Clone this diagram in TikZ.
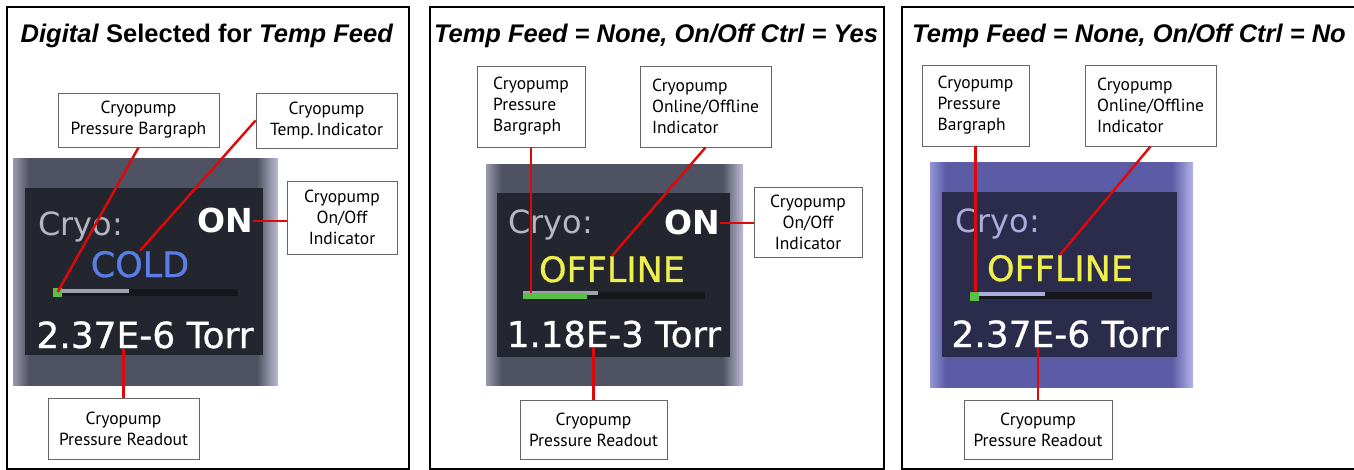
\documentclass[tikz,border=0pt]{standalone}
\usepackage{fontspec}
\newfontfamily\titlefont{Liberation Sans}
\newfontfamily\calloutfont{PT Sans}
\newfontfamily\dispfont{DejaVu Sans}
\newfontfamily\dispheavy[FakeBold=0.8]{DejaVu Sans}
\usetikzlibrary{positioning}
\definecolor{leadred}{HTML}{E00808}
\definecolor{bezelEdgeL}{HTML}{9A9AAC}
\definecolor{bezelMid}{HTML}{4E5262}
\definecolor{bezelEdgeR}{HTML}{BDBDD4}
\definecolor{violetEdgeL}{HTML}{9494D8}
\definecolor{violetMid}{HTML}{5C5CA6}
\definecolor{violetEdgeR}{HTML}{B4B4EA}
\definecolor{screengray}{HTML}{23262E}
\definecolor{screenviolet}{HTML}{2B2B4B}
\definecolor{cryogray}{HTML}{B4B8C0}
\definecolor{cryoviolet}{HTML}{ADADDC}
\definecolor{coldblue}{HTML}{5A7EE8}
\definecolor{offyellow}{HTML}{EEEE4E}
\definecolor{track}{HTML}{15171D}
\definecolor{trackfill}{HTML}{9EA2AC}
\definecolor{barfill}{HTML}{5BBF47}
\pgfdeclarehorizontalshading{grayframe}{100bp}{color(0bp)=(bezelEdgeL); color(25bp)=(bezelEdgeL);
  color(28bp)=(bezelMid); color(71bp)=(bezelMid); color(75bp)=(bezelEdgeR); color(100bp)=(bezelEdgeR)}
\pgfdeclarehorizontalshading{violetframe}{100bp}{color(0bp)=(violetEdgeL); color(25bp)=(violetEdgeL);
  color(28bp)=(violetMid); color(71bp)=(violetMid); color(75bp)=(violetEdgeR); color(100bp)=(violetEdgeR)}

\begin{document}
\begin{tikzpicture}[x=1pt, y=-1pt,
      panel/.style={draw=black, line width=1.6pt},
      heading/.style={font=\titlefont\bfseries\fontsize{25.5}{30}\selectfont,
        anchor=base, inner sep=0pt},
      callout/.style={draw=black!60, fill=white, line width=.9pt, inner sep=0pt,
        font=\calloutfont\fontsize{17.5}{21}\selectfont},
      leader/.style={draw=leadred, line width=2.4pt},
      bezel/.style={shading=grayframe},
      vbezel/.style={shading=violetframe},
      disp/.style={font=\dispfont\fontsize{#1}{#1}\selectfont, inner sep=0pt},
      dispbold/.style={font=\dispheavy\fontsize{#1}{#1}\selectfont, inner sep=0pt},
      bartrack/.style={fill=track, inner sep=0pt, minimum height=7pt, anchor=west},
      barlevel/.style={fill=trackfill, inner sep=0pt, minimum height=4pt, anchor=west},
      bargreen/.style={fill=barfill, inner sep=0pt, minimum height=8pt, anchor=west}
    ]
      \useasboundingbox (0,0) rectangle (1354,470);
      \fill[white] (0,0) rectangle (1354,470);

      % frames and headings
      \draw[panel] (7,7) rectangle (409,469);
      \draw[panel] (430,7) rectangle (884,469);
      \draw[panel] (902,7) rectangle (1362,469);
      \node[heading] (head1) at (207,43) {\textit{Digital} Selected for \textit{Temp Feed}};
      \node[heading] (head2) at (656,43) {\textit{Temp Feed = None, On/Off Ctrl = Yes}};
      \node[heading] (head3) at (1129,43) {\textit{Temp Feed = None, On/Off Ctrl = No}};

      % panel 1: digital temp feed
      \shade[bezel] (13,159) rectangle (278,385);
      \fill[screengray] (25,188) rectangle (263,355);
      \node[disp=32, text=cryogray, anchor=base west] (cryo1) at (38,236) {Cryo:};
      \node[disp=33, text=white, font=\dispfont\bfseries\fontsize{33}{33}\selectfont, anchor=base east] (on1) at (253,233) {ON};
      \node[dispbold=35, text=coldblue, anchor=base] (cold1) at (140,277) {COLD};
      \node[bartrack, minimum width=185pt] (track1) at (53,292) {};
      \node[barlevel, minimum width=76pt] (level1) at (53,291) {};
      \node[bargreen, minimum width=9pt, minimum height=9pt] (bar1) at (53,292) {};
      \node[dispbold=36, text=white, anchor=base] (read1) at (145,348) {2.37E-6 Torr};

      \node[callout, align=center, minimum width=161pt, minimum height=54pt] (bar1box) at (138.5,120) {Cryopump\\Pressure Bargraph};
      \node[callout, align=center, minimum width=141pt, minimum height=55pt] (temp1box) at (326.5,120.5) {Cryopump\\Temp.\,Indicator};
      \node[callout, align=center, minimum width=110pt, minimum height=73pt] (onoff1box) at (342,217.5) {Cryopump\\On/Off\\Indicator};
      \node[callout, align=center, minimum width=151pt, minimum height=61pt] (read1box) at (123.5,428.5) {Cryopump\\Pressure Readout};

      \draw[leader] (bar1box.south) -- (bar1.center);
      \draw[leader] (temp1box.west) -- (cold1.north);
      \draw[leader] (on1.east) -- (on1.east -| onoff1box.west);
      \draw[leader] (read1box.north) -- (read1box.north |- read1.south);

      % panel 2: no temp feed, on/off control
      \shade[bezel] (486,165) rectangle (743,385);
      \fill[screengray] (497,193) rectangle (730,357);
      \node[disp=32, text=cryogray, anchor=base west] (cryo2) at (508,234) {Cryo:};
      \node[disp=33, text=white, font=\dispfont\bfseries\fontsize{33}{33}\selectfont, anchor=base east] (on2) at (720,235) {ON};
      \node[dispbold=35, text=offyellow, anchor=base] (offline2) at (612,282) {OFFLINE};
      \node[bartrack, minimum width=182pt] (track2) at (523,295) {};
      \node[barlevel, minimum width=75pt] (level2) at (523,293) {};
      \node[bargreen, minimum width=64pt, minimum height=6pt] (bar2) at (523,296) {};
      \node[dispbold=35.5, text=white, anchor=base] (read2) at (614,347) {1.18E-3 Torr};

      \node[callout, align=left, minimum width=108pt, minimum height=81pt] (bar2box) at (531,106.5) {Cryopump\\Pressure\\Bargraph};
      \node[callout, align=left, minimum width=131pt, minimum height=81pt] (online2box) at (705.5,106.5) {Cryopump\\Online/Offline\\Indicator};
      \node[callout, align=center, minimum width=108pt, minimum height=70pt] (onoff2box) at (808,222) {Cryopump\\On/Off\\Indicator};
      \node[callout, align=center, minimum width=147pt, minimum height=59pt] (read2box) at (593.5,429.5) {Cryopump\\Pressure Readout};

      \draw[leader] (bar2box.south) -- (bar2box.south |- bar2.north);
      \draw[leader] (online2box.south) -- (offline2.north);
      \draw[leader] (on2.east) -- (on2.east -| onoff2box.west);
      \draw[leader] (read2box.north) -- (read2box.north |- read2.south);

      % panel 3: no temp feed, no on/off control
      \shade[vbezel] (930,163) rectangle (1193,387);
      \fill[screenviolet] (942,192) rectangle (1177,357);
      \node[disp=32, text=cryoviolet, anchor=base west] (cryo3) at (955,233) {Cryo:};
      \node[dispbold=35, text=offyellow, anchor=base] (offline3) at (1060,281) {OFFLINE};
      \node[bartrack, minimum width=182pt] (track3) at (970,295) {};
      \node[barlevel, minimum width=75pt, fill=cryoviolet] (level3) at (970,294) {};
      \node[bargreen, minimum width=9pt, minimum height=9pt] (bar3) at (970,296) {};
      \node[dispbold=36, text=white, anchor=base] (read3) at (1060,347) {2.37E-6 Torr};

      \node[callout, align=left, minimum width=107pt, minimum height=81pt] (bar3box) at (975.5,105.5) {Cryopump\\Pressure\\Bargraph};
      \node[callout, align=left, minimum width=131pt, minimum height=81pt] (online3box) at (1150.5,105.5) {Cryopump\\Online/Offline\\Indicator};
      \node[callout, align=center, minimum width=148pt, minimum height=59pt] (read3box) at (1038,429.5) {Cryopump\\Pressure Readout};

      \draw[leader] (bar3box.south) -- (bar3box.south |- bar3.north);
      \draw[leader] (online3box.south) -- (offline3.north);
      \draw[leader] (read3box.north) -- (read3box.north |- read3.south);
    \end{tikzpicture}
\end{document}
